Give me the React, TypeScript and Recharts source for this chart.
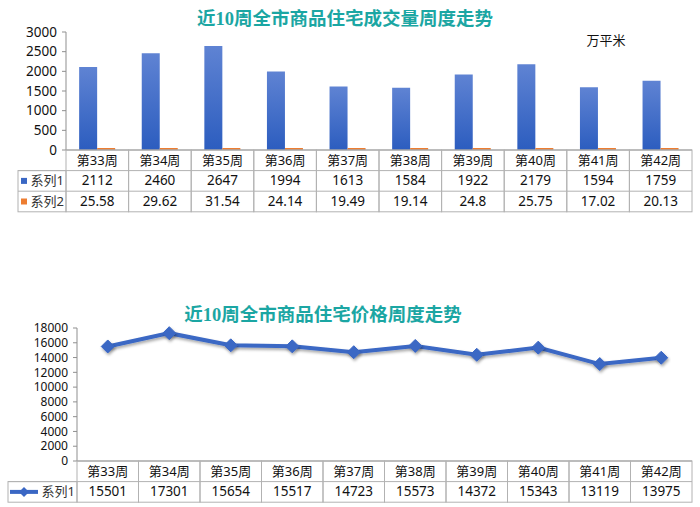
import React from 'react';
import { BarChart, Bar, LineChart, Line, XAxis, YAxis } from 'recharts';

// 周次
const weeks = ['第33周', '第34周', '第35周', '第36周', '第37周', '第38周', '第39周', '第40周', '第41周', '第42周'];
// 成交量 系列1 / 系列2
const volume1 = [2112, 2460, 2647, 1994, 1613, 1584, 1922, 2179, 1594, 1759];
const volume2 = [25.58, 29.62, 31.54, 24.14, 19.49, 19.14, 24.8, 25.75, 17.02, 20.13];
// 价格 系列1
const price1 = [15501, 17301, 15654, 15517, 14723, 15573, 14372, 15343, 13119, 13975];
const volumeTicks = [0, 500, 1000, 1500, 2000, 2500, 3000];
const priceTicks = [0, 2000, 4000, 6000, 8000, 10000, 12000, 14000, 16000, 18000];

const volumeData = weeks.map((w, i) => ({ week: w, s1: volume1[i], s2: volume2[i] }));
const priceData = weeks.map((w, i) => ({ week: w, s1: price1[i] }));

const GRID = '#b2b2b2';
const AXIS = '#8f8f8f';
const TEAL = '#1ba6a3';
const BLUE = '#3a67c4';
const ORANGE = '#ed7d31';
const FONT = "'Noto Sans', 'Noto Sans CJK SC', sans-serif";
const TITLE_FONT = "'Liberation Serif', 'Noto Sans CJK SC', serif";

const PLOT_RIGHT = 692;
const ROW = 20.6;

// 表格列：每个刻度画一列
function makeTableTick(rows: number[][], plotLeft: number, labelLeft: number, legend: (x: number, y: number) => React.ReactNode) {
  const colW = (PLOT_RIGHT - plotLeft) / weeks.length;
  return function TableTick(props: any) {
    const { x, y, payload, index } = props;
    const left = x - colW / 2;
    const total = ROW * (rows.length + 1);
    return (
      <g>
        <rect x={left} y={y} width={colW} height={total} fill="none" stroke={GRID} strokeWidth={1} />
        {rows.map((_, r) => (
          <line key={r} x1={left} x2={left + colW} y1={y + ROW * (r + 1)} y2={y + ROW * (r + 1)} stroke={GRID} />
        ))}
        <text x={x} y={y + ROW / 2 + 4.5} textAnchor="middle" fontSize={13} fill="#111" fontFamily={FONT}>
          {payload.value}
        </text>
        {rows.map((vals, r) => (
          <text key={'v' + r} x={x} y={y + ROW * (r + 1.5) + 4.5} textAnchor="middle" fontSize={13.5} fill="#111" fontFamily={FONT}>
            {vals[index]}
          </text>
        ))}
        {index === 0 && (
          <g>
            <rect x={labelLeft} y={y + ROW} width={left - labelLeft} height={ROW * rows.length} fill="none" stroke={GRID} />
            {rows.map((_, r) => (
              <g key={'l' + r}>
                <line x1={labelLeft} x2={left} y1={y + ROW * (r + 1)} y2={y + ROW * (r + 1)} stroke={GRID} />
                {legend(labelLeft, y + ROW * (r + 1.5))}
                <text x={left - 2} y={y + ROW * (r + 1.5) + 4.5} textAnchor="end" fontSize={13} fill="#333" fontFamily={FONT}>
                  系列{r + 1}
                </text>
              </g>
            ))}
          </g>
        )}
      </g>
    );
  };
}

const volumeLegendColors = [BLUE, ORANGE];
const VolumeTick = makeTableTick([volume1, volume2], 66, 18, () => null);

function volumeLegendTick(props: any) {
  const base = VolumeTick(props);
  if (props.index !== 0) return base;
  const { y } = props;
  return (
    <g>
      {base}
      {volumeLegendColors.map((c, r) => (
        <rect key={r} x={21} y={y + ROW * (r + 1.5) - 3} width={6} height={6} fill={c} />
      ))}
    </g>
  );
}

const PriceTick = makeTableTick([price1], 77, 8, (lx, cy) => (
  <g>
    <line x1={lx + 2} x2={lx + 30} y1={cy} y2={cy} stroke={BLUE} strokeWidth={4} />
    <path d={`M ${lx + 16} ${cy - 5} L ${lx + 21} ${cy} L ${lx + 16} ${cy + 5} L ${lx + 11} ${cy} Z`} fill={BLUE} />
  </g>
));

function Diamond(props: any) {
  const { cx, cy, index } = props;
  const s = 6.5;
  return (
    <path
      key={'d' + index}
      d={`M ${cx} ${cy - s} L ${cx + s} ${cy} L ${cx} ${cy + s} L ${cx - s} ${cy} Z`}
      fill={BLUE}
      stroke={BLUE}
      filter="url(#shadow)"
    />
  );
}

export default function App() {
  return (
    <div style={{ position: 'absolute', left: 0, top: 0, width: 700, height: 507, background: '#fff' }}>
      <svg width={700} height={507} style={{ position: 'absolute', left: 0, top: 0 }}>
        <text x={345} y={25} textAnchor="middle" fontSize={18.5} fontWeight="bold" fill={TEAL} fontFamily={TITLE_FONT}>
          近10周全市商品住宅成交量周度走势
        </text>
        <text x={606} y={45} textAnchor="middle" fontSize={13} fill="#111" fontFamily={FONT}>
          万平米
        </text>
        <text x={323} y={321} textAnchor="middle" fontSize={18.5} fontWeight="bold" fill={TEAL} fontFamily={TITLE_FONT}>
          近10周全市商品住宅价格周度走势
        </text>
      </svg>

      <div style={{ position: 'absolute', left: 0, top: 0 }}>
        <BarChart width={700} height={220} data={volumeData} margin={{ top: 32, right: 8, bottom: 8, left: 0 }} barGap={0} barCategoryGap="21%">
          <defs>
            <linearGradient id="blueGrad" x1="0" y1="0" x2="0" y2="1">
              <stop offset="0%" stopColor="#5f83d3" />
              <stop offset="100%" stopColor="#2c5dbf" />
            </linearGradient>
          </defs>
          <XAxis
            dataKey="week"
            height={62}
            interval={0}
            tickSize={0}
            tickMargin={0}
            axisLine={{ stroke: AXIS }}
            tick={volumeLegendTick}
          />
          <YAxis
            width={66}
            domain={[0, 3000]}
            ticks={volumeTicks}
            interval={0}
            tickSize={4}
            tickMargin={5}
            axisLine={{ stroke: AXIS }}
            tickLine={{ stroke: AXIS }}
            tick={{ fontSize: 13.5, fill: '#111', fontFamily: FONT }}
          />
          <Bar dataKey="s1" fill="url(#blueGrad)" isAnimationActive={false} />
          <Bar dataKey="s2" fill={ORANGE} minPointSize={2} isAnimationActive={false} />
        </BarChart>
      </div>

      <div style={{ position: 'absolute', left: 0, top: 260 }}>
        <LineChart width={700} height={250} data={priceData} margin={{ top: 68, right: 8, bottom: 7, left: 0 }}>
          <defs>
            <filter id="shadow" x="-20%" y="-20%" width="140%" height="160%">
              <feDropShadow dx="1" dy="2" stdDeviation="1.5" floodColor="#000" floodOpacity="0.35" />
            </filter>
          </defs>
          <XAxis
            dataKey="week"
            scale="band"
            height={42}
            interval={0}
            tickSize={0}
            tickMargin={0}
            axisLine={{ stroke: AXIS }}
            tick={PriceTick}
          />
          <YAxis
            width={77}
            domain={[0, 18000]}
            ticks={priceTicks}
            interval={0}
            tickSize={4}
            tickMargin={5}
            axisLine={{ stroke: AXIS }}
            tickLine={{ stroke: AXIS }}
            tick={{ fontSize: 12, fill: '#111', fontFamily: FONT }}
          />
          <Line
            dataKey="s1"
            stroke={BLUE}
            strokeWidth={4}
            dot={Diamond}
            activeDot={false}
            filter="url(#shadow)"
            isAnimationActive={false}
          />
        </LineChart>
      </div>
    </div>
  );
}
